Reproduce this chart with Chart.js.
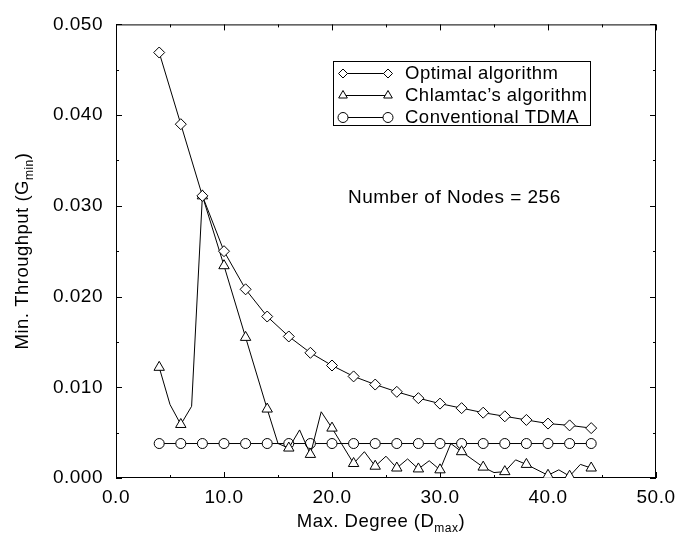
<!DOCTYPE html>
<html>
<head>
<meta charset="utf-8">
<title>Min. Throughput vs Max. Degree</title>
<script src="https://cdn.jsdelivr.net/npm/chart.js@4.4.1/dist/chart.umd.min.js"></script>
<style>
  html, body { margin: 0; padding: 0; background: #fff; }
  #wrap { width: 699px; height: 537px; }
</style>
</head>
<body>
<div id="wrap"><canvas id="chart" width="699" height="537"></canvas></div>
<script>
// Minimum throughput of a 256-node network against the maximum node degree
const degrees = [4, 6, 8, 10, 12, 14, 16, 18, 20, 22, 24, 26, 28, 30, 32, 34, 36, 38, 40, 42, 44];
const optimalValues = [0.0469, 0.0390, 0.0311, 0.0250, 0.0208, 0.0178, 0.0156, 0.0138, 0.0124, 0.0112, 0.0103,
                       0.0095, 0.0088, 0.0082, 0.0077, 0.0072, 0.0068, 0.0064, 0.0060, 0.0058, 0.0055];
const tdmaValues = [0.0038, 0.0038, 0.0038, 0.0038, 0.0038, 0.0038, 0.0038, 0.0038, 0.0038, 0.0038, 0.0038,
                    0.0038, 0.0038, 0.0038, 0.0038, 0.0038, 0.0038, 0.0038, 0.0038, 0.0038, 0.0038];

// Chlamtac's curve also bends at some odd degrees, which carry no marker
const chlamtacDegrees = [4, 5, 6, 7, 8, 10, 12, 14, 15, 16, 17, 18, 19, 20, 22, 23, 24, 25, 26, 27, 28, 29,
                         30, 31, 32, 34, 35, 36, 37, 38, 40, 41, 42, 43, 44];
const chlamtacValues = [0.0122, 0.0081, 0.0059, 0.0079, 0.0311, 0.0234, 0.0155, 0.0076, 0.0038, 0.0033, 0.0053,
                        0.0026, 0.0073, 0.0055, 0.0016, 0.0029, 0.0013, 0.0024, 0.0011, 0.0021, 0.0010, 0.0019,
                        0.0009, 0.0038, 0.0029, 0.0012, 0.0006, 0.0007, 0.0020, 0.0015, 0.0003, 0.0009, 0.0002,
                        0.0015, 0.0011];

const seriesNames = ['Optimal algorithm', 'Chlamtac\u2019s algorithm', 'Conventional TDMA'];
const xTicks = [0, 10, 20, 30, 40, 50];
const xTickLabels = ['0.0', '10.0', '20.0', '30.0', '40.0', '50.0'];
const yTicks = [0, 0.01, 0.02, 0.03, 0.04, 0.05];
const yTickLabels = ['0.000', '0.010', '0.020', '0.030', '0.040', '0.050'];
const annotationText = 'Number of Nodes = 256';

const FONT = "'Liberation Sans', Arial, Helvetica, sans-serif";
const INK = '#000';

const toPoints = (xs, ys) => xs.map((x, i) => ({ x: x, y: ys[i] }));

// inward tick marks and the box around the plot
const framePlugin = {
    id: 'frame',
    beforeDraw(chart) {
        chart.ctx.letterSpacing = '0.5px';
    },
    beforeDatasetsDraw(chart) {
        const { ctx, chartArea: a, scales } = chart;
        const xs = scales.x, ys = scales.y;
        ctx.save();
        ctx.strokeStyle = INK;
        ctx.lineWidth = 1;
        ctx.strokeRect(a.left + 0.5, a.top + 0.5, a.right - a.left - 1, a.bottom - a.top - 1);
        ctx.beginPath();
        const tickX = (v, len) => {
            const px = Math.round(xs.getPixelForValue(v)) + 0.5;
            ctx.moveTo(px, a.bottom); ctx.lineTo(px, a.bottom - len);
            ctx.moveTo(px, a.top); ctx.lineTo(px, a.top + len);
        };
        const tickY = (v, len) => {
            const py = Math.round(ys.getPixelForValue(v)) + 0.5;
            ctx.moveTo(a.left, py); ctx.lineTo(a.left + len, py);
            ctx.moveTo(a.right, py); ctx.lineTo(a.right - len, py);
        };
        xTicks.forEach((v, i) => {
            tickX(v, 6);
            if (i < xTicks.length - 1) tickX((v + xTicks[i + 1]) / 2, 3);
        });
        yTicks.forEach((v, i) => {
            tickY(v, 6);
            if (i < yTicks.length - 1) tickY((v + yTicks[i + 1]) / 2, 3);
        });
        ctx.stroke();
        ctx.restore();
    },
    afterDraw(chart) {
        const ctx = chart.ctx;
        ctx.save();
        ctx.fillStyle = INK;
        ctx.strokeStyle = INK;
        ctx.letterSpacing = '0.5px';

        // text with a subscript part, left aligned from x
        const drawSub = (main, sub, tail, x, y) => {
            ctx.font = '18.5px ' + FONT;
            ctx.fillText(main, x, y);
            x += ctx.measureText(main).width;
            ctx.font = '12px ' + FONT;
            ctx.fillText(sub, x, y + 5);
            x += ctx.measureText(sub).width;
            ctx.font = '18.5px ' + FONT;
            ctx.fillText(tail, x, y);
        };
        const subWidth = (main, sub, tail) => {
            ctx.font = '18.5px ' + FONT;
            let w = ctx.measureText(main + tail).width;
            ctx.font = '12px ' + FONT;
            return w + ctx.measureText(sub).width;
        };
        ctx.textBaseline = 'alphabetic';
        ctx.textAlign = 'left';

        // x axis title
        let w = subWidth('Max. Degree (D', 'max', ')');
        drawSub('Max. Degree (D', 'max', ')', 381 - w / 2, 527);

        // y axis title, rotated
        ctx.save();
        ctx.translate(28, 251);
        ctx.rotate(-Math.PI / 2);
        w = subWidth('Min. Throughput (G', 'min', ')');
        drawSub('Min. Throughput (G', 'min', ')', -w / 2, 0);
        ctx.restore();

        // node count note
        ctx.font = '19px ' + FONT;
        ctx.fillText(annotationText, 348, 203);

        // legend box: marker, line, marker, name
        ctx.lineWidth = 1;
        ctx.strokeRect(333.5, 61.5, 257, 64);
        const rows = [73, 95, 117];
        chart.data.datasets.forEach((ds, i) => {
            const y = rows[i];
            ctx.beginPath();
            ctx.moveTo(343, y + 0.5);
            ctx.lineTo(388, y + 0.5);
            ctx.stroke();
            const opts = {
                pointStyle: ds.pointStyle,
                radius: ds.legendRadius,
                rotation: 0,
                borderWidth: 1
            };
            ctx.fillStyle = '#fff';
            Chart.helpers.drawPoint(ctx, opts, 343, y + 0.5);
            Chart.helpers.drawPoint(ctx, opts, 388, y + 0.5);
            ctx.fillStyle = INK;
            ctx.font = '18.5px ' + FONT;
            ctx.textBaseline = 'middle';
            ctx.fillText(seriesNames[i], 405, y + 1);
        });
        ctx.restore();
    }
};

const lineStyle = {
    borderColor: INK,
    borderWidth: 1,
    pointBackgroundColor: '#fff',
    pointBorderColor: INK,
    pointBorderWidth: 1,
    tension: 0,
    fill: false
};

new Chart(document.getElementById('chart'), {
    type: 'line',
    data: {
        datasets: [
            {
                ...lineStyle,
                label: seriesNames[0],
                data: toPoints(degrees, optimalValues),
                pointStyle: 'rectRot',
                pointRadius: 5.5,
                legendRadius: 4.5
            },
            {
                ...lineStyle,
                label: seriesNames[1],
                data: toPoints(chlamtacDegrees, chlamtacValues),
                pointStyle: 'triangle',
                // markers only on the even degrees
                pointRadius: c => (c.raw && c.raw.x % 2 === 0 ? 6 : 0),
                legendRadius: 5
            },
            {
                ...lineStyle,
                label: seriesNames[2],
                data: toPoints(degrees, tdmaValues),
                pointStyle: 'circle',
                pointRadius: 5,
                legendRadius: 5
            }
        ]
    },
    options: {
        responsive: false,
        animation: false,
        events: [],
        layout: { padding: { left: 0, top: 11, right: 43, bottom: 0 } },
        plugins: {
            legend: { display: false },
            tooltip: { enabled: false }
        },
        scales: {
            x: {
                type: 'linear',
                min: 0,
                max: 50,
                grid: { display: false, drawTicks: false },
                border: { display: false },
                afterBuildTicks: s => { s.ticks = xTicks.map(v => ({ value: v })); },
                afterFit: s => { s.height = 59; },
                ticks: {
                    color: INK,
                    padding: 8,
                    maxRotation: 0,
                    font: { family: FONT, size: 19 },
                    callback: (v, i) => xTickLabels[i]
                }
            },
            y: {
                type: 'linear',
                min: 0,
                max: 0.05,
                grid: { display: false, drawTicks: false },
                border: { display: false },
                afterBuildTicks: s => { s.ticks = yTicks.map(v => ({ value: v })); },
                afterFit: s => { s.width = 116; },
                ticks: {
                    color: INK,
                    padding: 13,
                    font: { family: FONT, size: 19 },
                    callback: (v, i) => yTickLabels[i]
                }
            }
        }
    },
    plugins: [framePlugin]
});
</script>
</body>
</html>
